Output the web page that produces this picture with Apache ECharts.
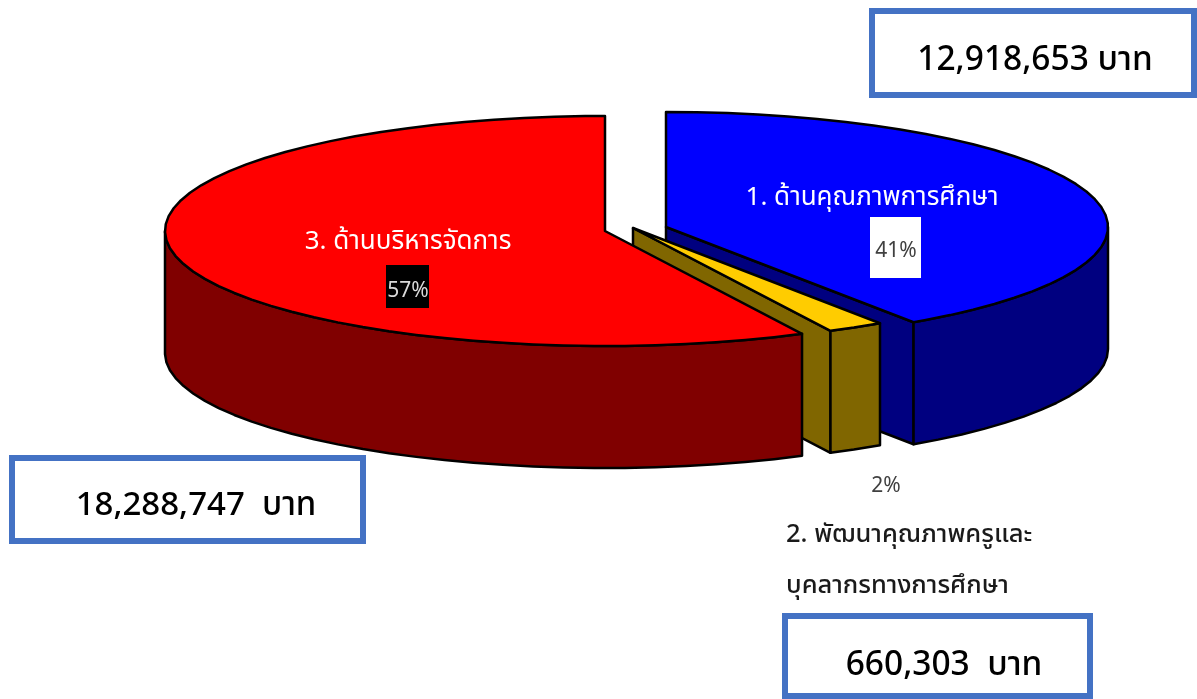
<!DOCTYPE html>
<html><head><meta charset="utf-8">
<style>html,body{margin:0;padding:0;background:#fff}#c{width:1197px;height:699px}</style>
<script src="https://cdn.jsdelivr.net/npm/echarts@6/dist/echarts.min.js"></script>
</head><body><div id="c"></div>
<script>
const categories = ['1. ด้านคุณภาพการศึกษา', '2. พัฒนาคุณภาพครูและ\nบุคลากรทางการศึกษา', '3. ด้านบริหารจัดการ'];
const amounts = [12918653, 660303, 18288747];
const percentLabels = ['41%', '2%', '57%'];
const amountLabels = ['12,918,653 บาท', '660,303  บาท', '18,288,747  บาท'];

const topColors = ['#0000FF', '#FFCC00', '#FF0000'];
const wallColors = ['#000080', '#806600', '#800000'];
const apexes = [[666, 227], [633, 228], [605, 231]];
const radiiX = [442, 441, 440];
const RY = 115, DEPTH = 122, STEP = Math.PI / 45;
const FONT = '"Noto Sans", "Noto Sans Thai", "Open Sans", sans-serif';
const total = amounts.reduce((a, b) => a + b, 0);

function renderSlice(params, api) {
  const i = params.dataIndex;
  const before = amounts.slice(0, i).reduce((a, b) => a + b, 0);
  const a0 = before / total * Math.PI * 2;
  const a1 = a0 + api.value(0) / total * Math.PI * 2;
  const [cx, cy] = apexes[i];
  const RX = radiiX[i];
  const pt = (t, d) => [cx + RX * Math.sin(t), cy - RY * Math.cos(t) + (d || 0)];
  const arc = (s, e) => {
    const out = [pt(s)];
    for (let t = s + STEP; t < e; t += STEP) out.push(pt(t));
    out.push(pt(e));
    return out;
  };
  const style = (fill) => ({ fill, stroke: '#000', lineWidth: 2.5, lineJoin: 'round' });
  const children = [];
  if (a1 < Math.PI) {
    children.push({ type: 'polygon', shape: { points: [[cx, cy], pt(a1), pt(a1, DEPTH), [cx, cy + DEPTH]] }, style: style(wallColors[i]) });
  }
  const fs = Math.max(a0, Math.PI / 2), fe = Math.min(a1, Math.PI * 1.5);
  if (fe > fs) {
    const front = arc(fs, fe);
    const pts = front.concat(front.slice().reverse().map(p => [p[0], p[1] + DEPTH]));
    children.push({ type: 'polygon', shape: { points: pts }, style: style(wallColors[i]) });
  }
  children.push({ type: 'polygon', shape: { points: [[cx, cy]].concat(arc(a0, a1)) }, style: style(topColors[i]) });
  return { type: 'group', children };
}

const box = (x, y, w, h) => ({ type: 'rect', shape: { x, y, width: w, height: h }, style: { fill: '#fff', stroke: '#4472C4', lineWidth: 6 } });
const txt = (x, y, text, size, fill, align, weight) => ({
  type: 'text', x, y, z: 10,
  style: { text, fill, font: (weight || 'normal') + ' ' + size + 'px ' + FONT, textAlign: align || 'center', textVerticalAlign: 'middle' }
});
const patch = (x, y, w, h, fill) => ({ type: 'rect', z: 9, shape: { x, y, width: w, height: h }, style: { fill } });
const lines = categories[1].split('\n');

const chart = echarts.init(document.getElementById('c'), null, { renderer: 'canvas' });
chart.setOption({
  animation: false,
  backgroundColor: '#fff',
  series: [{
    type: 'custom', coordinateSystem: 'none', silent: true,
    data: amounts.map(v => [v]),
    renderItem: renderSlice
  }],
  graphic: [
    box(872, 11, 322, 84), box(12, 458, 351, 83), box(785, 616, 305, 80),
    txt(1035, 60, amountLabels[0], 33.5, '#000', 'center', '500'),
    txt(196, 506, amountLabels[2], 33, '#000', 'center', '500'),
    txt(944, 665, amountLabels[1], 33.5, '#000', 'center', '500'),
    txt(872, 198, categories[0], 26, '#fff'),
    patch(870, 217, 51, 61, '#fff'), txt(896, 251, percentLabels[0], 21, '#404040'),
    txt(408, 242, categories[2], 26, '#fff'),
    patch(386, 265, 43, 43, '#000'), txt(408, 291, percentLabels[2], 21, '#d9d9d9'),
    txt(886, 486, percentLabels[1], 21, '#404040'),
    txt(786, 535, lines[0], 25.5, '#1a1a1a', 'left', '500'),
    txt(786, 586, lines[1], 25.5, '#1a1a1a', 'left', '500')
  ]
});
</script></body></html>
